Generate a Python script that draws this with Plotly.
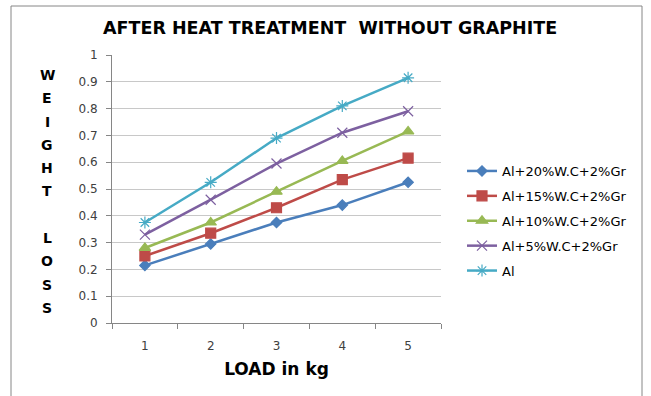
import plotly.graph_objects as go

# Wear test results: weight loss against applied load
loads = ["1", "2", "3", "4", "5"]
series_names = ["Al+20%W.C+2%Gr", "Al+15%W.C+2%Gr", "Al+10%W.C+2%Gr", "Al+5%W.C+2%Gr", "Al"]
al_20wc = [0.215, 0.295, 0.375, 0.44, 0.525]
al_15wc = [0.25, 0.335, 0.43, 0.535, 0.615]
al_10wc = [0.28, 0.375, 0.49, 0.605, 0.715]
al_5wc = [0.33, 0.46, 0.595, 0.71, 0.79]
al_plain = [0.375, 0.525, 0.69, 0.81, 0.915]
y_ticks = [0, 0.1, 0.2, 0.3, 0.4, 0.5, 0.6, 0.7, 0.8, 0.9, 1]
y_title = "WEIGHT LOSS"

values = [al_20wc, al_15wc, al_10wc, al_5wc, al_plain]
colors = ["#4A7EBB", "#BE4B48", "#98B954", "#7D60A0", "#46AAC5"]
symbols = ["diamond", "square", "triangle-up", "x-thin-open", "asterisk-open"]
sizes = [8, 10, 10, 10, 10]

W, H = 651, 396
L, R, T, B = 112, 210, 55, 73
FONT = "DejaVu Sans, Open Sans, sans-serif"

fig = go.Figure()
for i, (name, ys) in enumerate(zip(series_names, values)):
    fig.add_trace(go.Scatter(
        x=loads, y=ys, name=name, mode="lines+markers",
        legendgroup=str(i),
        line=dict(color=colors[i], width=2.5),
        marker=dict(symbol=symbols[i], size=sizes[i], color=colors[i],
                    line=dict(color=colors[i], width=1.2)),
    ))

pw = W - L - R
ph = H - T - B

def px_x(v):
    return (v - L) / pw

def px_y(v):
    return (H - B - v) / ph

# vertical y-axis title, one letter per row
annotations = [
    dict(text="<b>AFTER HEAT TREATMENT  WITHOUT GRAPHITE</b>", xref="paper", yref="paper",
         x=px_x(330), y=px_y(28), xanchor="center", yanchor="middle", showarrow=False,
         font=dict(size=17.5, color="#000000", family=FONT)),
]
for k, ch in enumerate(y_title):
    if ch == " ":
        continue
    annotations.append(dict(text="<b>%s</b>" % ch, xref="paper", yref="paper",
                            x=px_x(47), y=px_y(75 + 23.3 * k),
                            xanchor="center", yanchor="middle", showarrow=False,
                            font=dict(size=14, color="#000000", family=FONT)))

fig.update_layout(
    width=W, height=H,
    margin=dict(l=L, r=R, t=T, b=B),
    paper_bgcolor="white", plot_bgcolor="white",
    font=dict(family=FONT, color="#404040", size=12),
    showlegend=True,
    legend=dict(x=px_x(462), y=px_y(156), xanchor="left", yanchor="top",
                font=dict(size=13, color="#000000"), bgcolor="rgba(0,0,0,0)",
                tracegroupgap=5, itemwidth=30, traceorder="grouped"),
    xaxis=dict(type="category", tickson="boundaries", ticks="outside", ticklen=5,
               tickcolor="#868686", showgrid=False, showline=True,
               linecolor="#868686", linewidth=1, ticklabelstandoff=12,
               tickfont=dict(size=12, color="#404040"), range=[-0.5, 4.5],
               title=dict(text="<b>LOAD in kg</b>", font=dict(size=17, color="#000000"),
                          standoff=10)),
    yaxis=dict(range=[0, 1], tickvals=y_ticks, ticktext=[f"{v:g}" for v in y_ticks],
               ticks="outside", ticklen=5, tickcolor="#868686",
               showgrid=True, gridcolor="#C8C8C8", gridwidth=1,
               showline=True, linecolor="#868686", linewidth=1, zeroline=False,
               ticklabelstandoff=6,
               tickfont=dict(size=12, color="#404040")),
    shapes=[dict(type="rect", xref="paper", yref="paper",
                 x0=px_x(11), x1=px_x(642), y0=px_y(420), y1=px_y(6),
                 line=dict(color="#868686", width=1), fillcolor="rgba(0,0,0,0)")],
    annotations=annotations,
)

fig.write_html("out.html")
